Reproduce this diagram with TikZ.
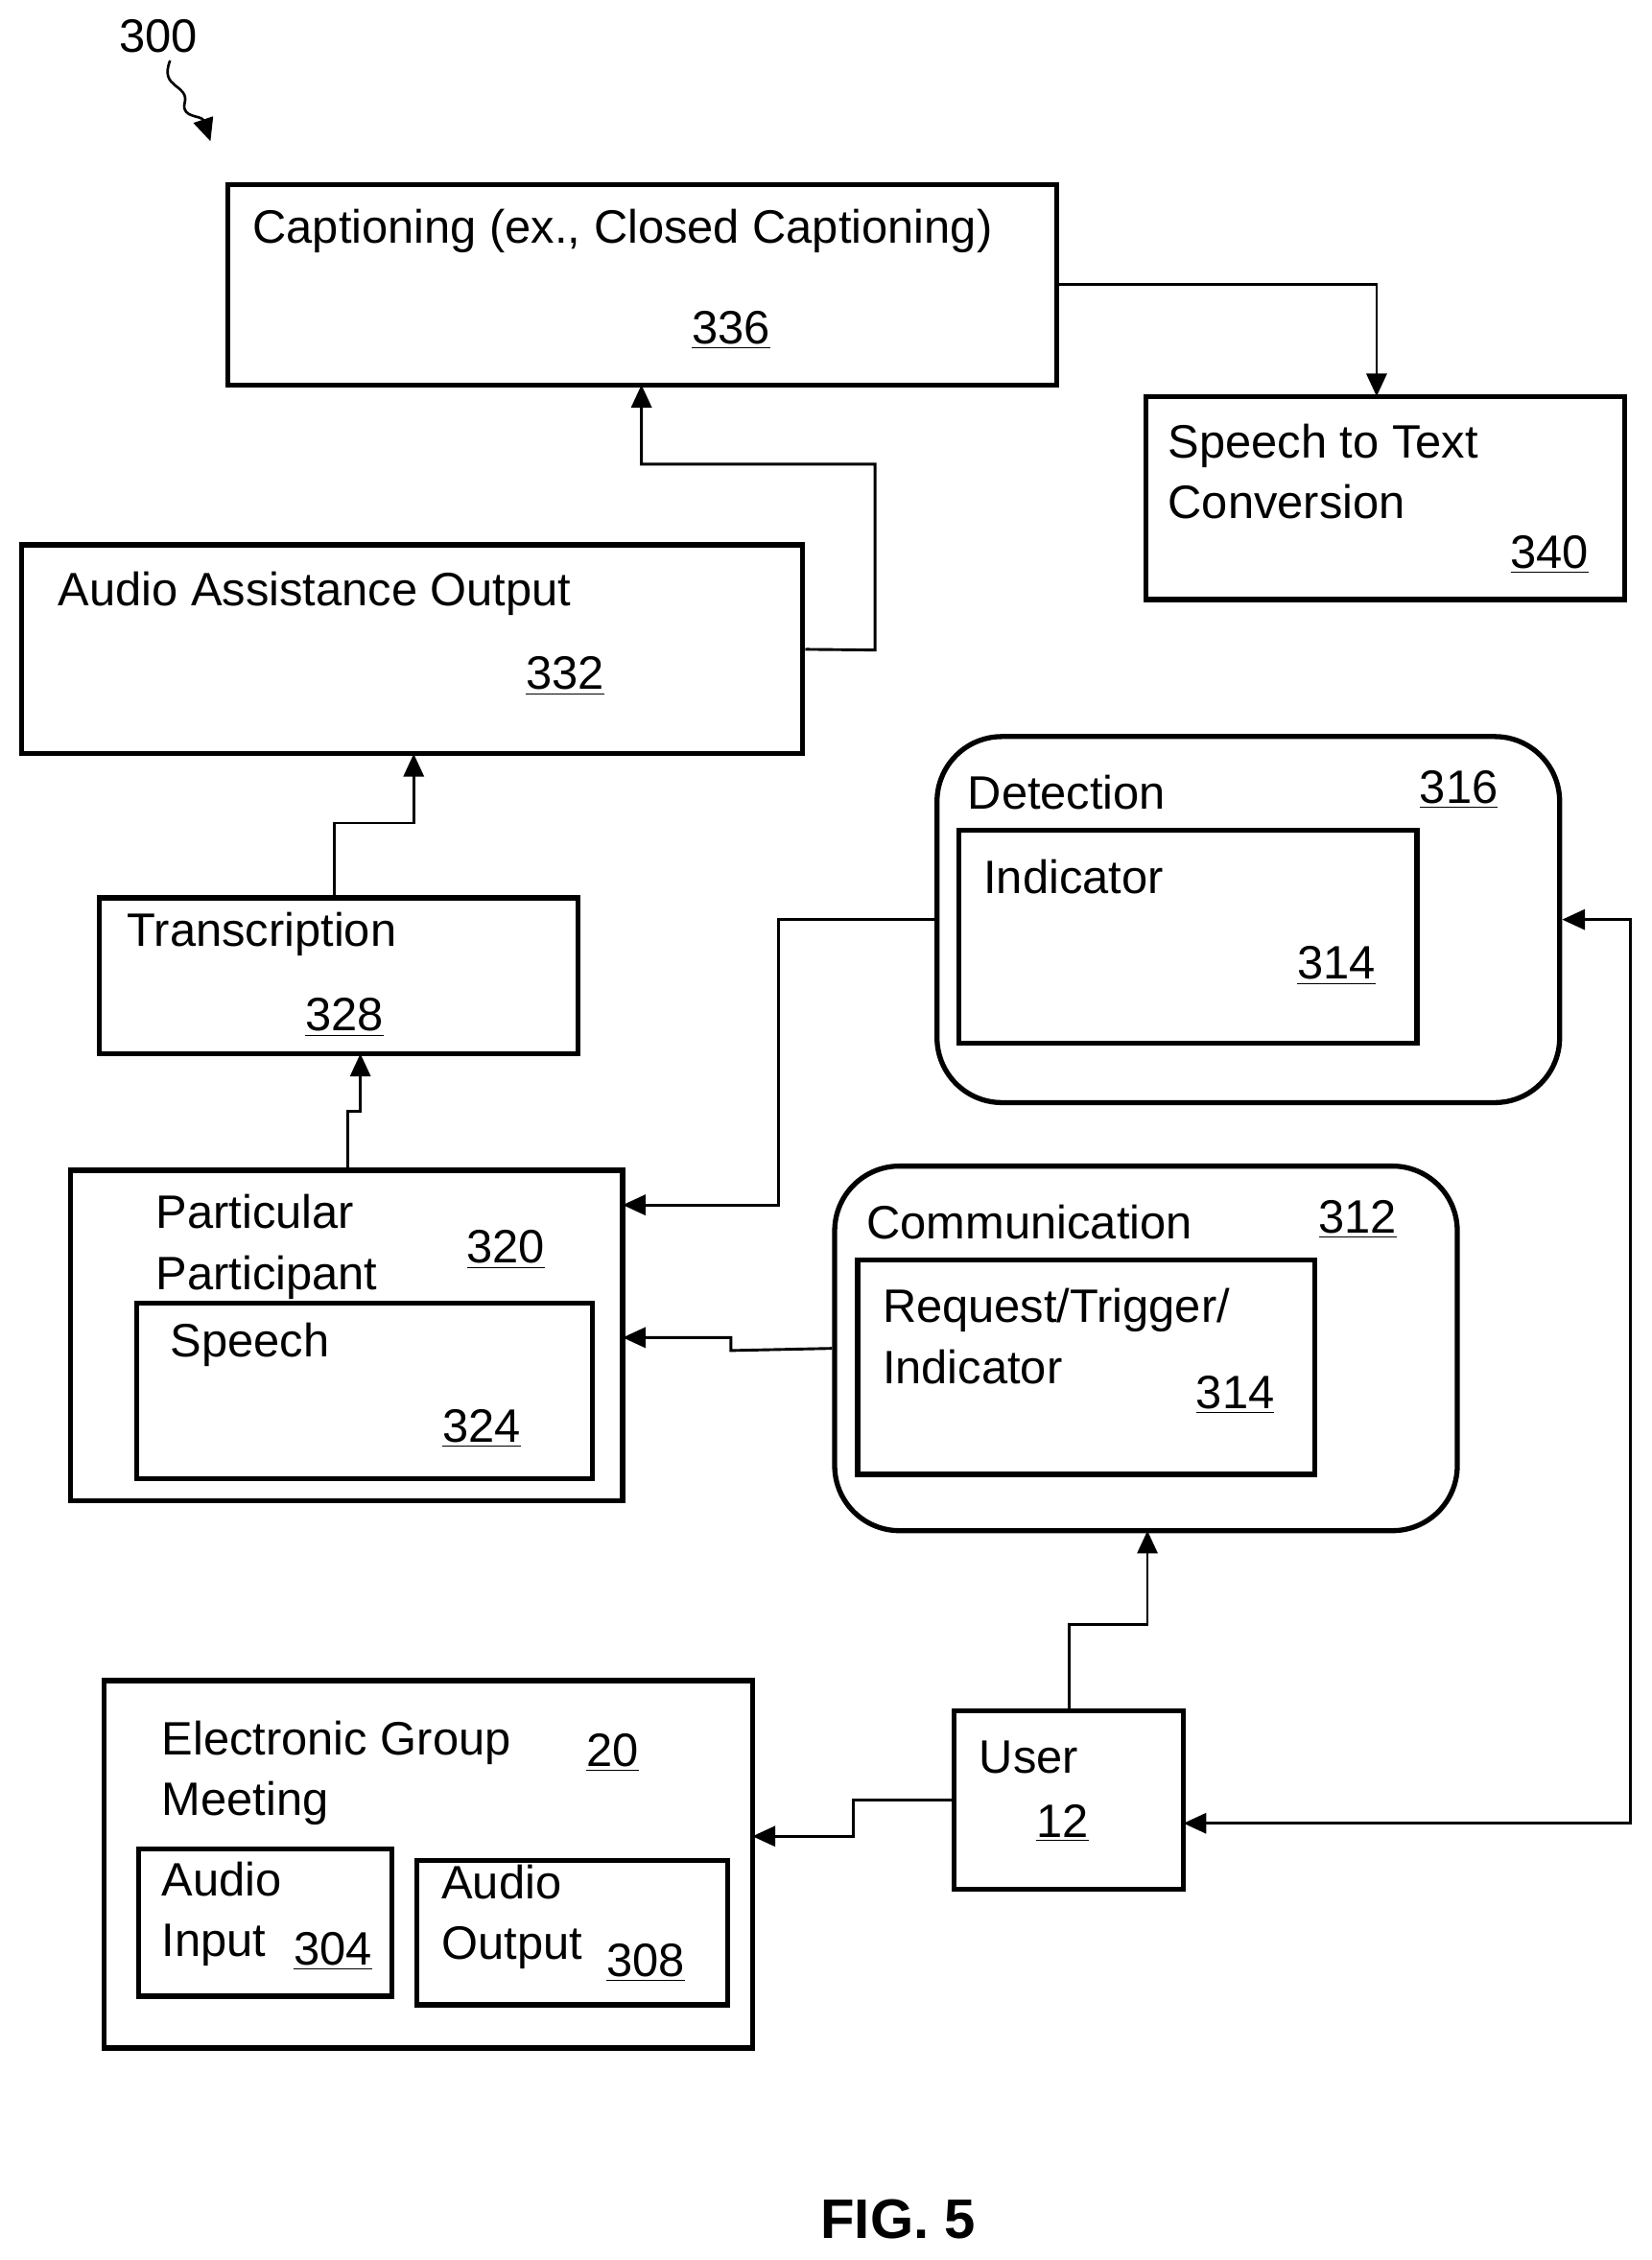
\documentclass[tikz,border=0pt]{standalone}
\usepackage{fontspec}
\setmainfont{Liberation Sans}
\usetikzlibrary{arrows.meta,decorations.pathmorphing}
\begin{document}
\begin{tikzpicture}[x=0.02cm,y=-0.02cm,
  box/.style={draw,line width=2pt,inner sep=0pt},
  rbox/.style={box,rounded corners=0.9cm},
  lbl/.style={anchor=west,inner sep=0pt,font=\fontsize{18.5}{24}\selectfont,align=left},
  num/.style={inner sep=0pt,font=\fontsize{18.5}{22}\selectfont},
  conn/.style={line width=1.1pt,-{Triangle[length=9pt,width=8pt]}}]
\useasboundingbox (0,0) rectangle (1146,1568);
% boxes
\node[box,minimum width=11.5cm,minimum height=2.78cm] (n336) at (445.5,197.5) {};
\node[box,minimum width=6.64cm,minimum height=2.82cm] (n340) at (961,345.5) {};
\node[box,minimum width=10.84cm,minimum height=2.9cm] (n332) at (286,450.5) {};
\node[box,minimum width=6.64cm,minimum height=2.16cm] (n328) at (235,677) {};
\node[box,minimum width=7.66cm,minimum height=4.58cm] (n320) at (240.5,926.5) {};
\node[box,minimum width=6.32cm,minimum height=2.44cm] (n324) at (253,965) {};
\node[rbox,minimum width=8.64cm,minimum height=5.08cm] (n316) at (866,638) {};
\node[box,minimum width=6.36cm,minimum height=2.96cm] (n314a) at (824,650) {};
\node[rbox,minimum width=8.64cm,minimum height=5.06cm] (n312) at (795,935.5) {};
\node[box,minimum width=6.34cm,minimum height=2.98cm] (n314b) at (753.5,948.5) {};
\node[box,minimum width=9cm,minimum height=5.1cm] (n20) at (297,1293.5) {};
\node[box,minimum width=3.52cm,minimum height=2.04cm] (n304) at (184,1334) {};
\node[box,minimum width=4.32cm,minimum height=2cm] (n308) at (397,1341) {};
\node[box,minimum width=3.18cm,minimum height=2.48cm] (n12) at (741.5,1249) {};
% texts
\node[lbl] (t336) at (175,160) {Captioning (ex., Closed Captioning)};
\node[num] (u336) at (507,229) {\underline{336}};
\node[lbl] (t340) at (810,327) {Speech to Text\\Conversion};
\node[num] (u340) at (1075,385) {\underline{340}};
\node[lbl] (t332) at (40,412) {Audio Assistance Output};
\node[num] (u332) at (392,469) {\underline{332}};
\node[lbl] (t328) at (88,648) {Transcription};
\node[num] (u328) at (239,706) {\underline{328}};
\node[lbl] (t320) at (108,865) {Particular\\Participant};
\node[num] (u320) at (351,867) {\underline{320}};
\node[lbl] (t324) at (118,933) {Speech};
\node[num] (u324) at (334,991) {\underline{324}};
\node[lbl] (t316) at (671,550) {Detection};
\node[num] (u316) at (1012,548) {\underline{316}};
\node[lbl] (t314a) at (682,608) {Indicator};
\node[num] (u314a) at (927,670) {\underline{314}};
\node[lbl] (t312) at (601,848) {Communication};
\node[num] (u312) at (942,846) {\underline{312}};
\node[lbl] (t314b) at (612,927) {Request/Trigger/\\Indicator};
\node[num] (u314b) at (857,968) {\underline{314}};
\node[lbl] (t20) at (112,1230) {Electronic Group\\Meeting};
\node[num] (u20) at (425,1216) {\underline{20}};
\node[lbl] (t304) at (112,1328) {Audio\\Input};
\node[num] (u304) at (231,1354) {\underline{304}};
\node[lbl] (t308) at (306,1330) {Audio\\Output};
\node[num] (u308) at (448,1362) {\underline{308}};
\node[lbl] (t12) at (679,1219) {User};
\node[num] (u12) at (737,1265) {\underline{12}};
\node[num] (t300) at (110,25) {300};
\node[num,font=\fontsize{22}{26}\selectfont\bfseries] (fig) at (623,1540) {FIG. 5};
\coordinate (s0) at (118,42);
\coordinate (s1) at (146,98);
\draw[line width=1pt,-{Triangle[length=9pt,width=8pt]}] (s0) .. controls (110,62) and (132,58) .. (128,72) .. controls (126,82) and (140,80) .. (s1);
% connectors
\draw[conn] (n336.east) -| (955,275);
\draw[conn] (n332.east) -- (607,451) -- (607,322) -- (445,322) -- (445,267);
\draw[conn] (232,623) -- (232,571) -- (287,571) -- (287,523);
\draw[conn] (241,812) -- (241,771) -- (250,771) -- (250,731);
\draw[conn] (n316.west) -- (540,638) -- (540,836) -- (432,836);
\draw[conn] (n312.west) -- (507,937) -- (507,928) -- (432,928);
\draw[conn] (742,1187) -- (742,1127) -- (796,1127) -- (796,1062);
\draw[line width=1.1pt,{Triangle[length=9pt,width=8pt]}-{Triangle[length=9pt,width=8pt]}] (n316.east) -- (1131,638) -- (1131,1265) -- (821,1265);
\draw[conn] (662,1249) -- (592,1249) -- (592,1274) -- (522,1274);
\end{tikzpicture}
\end{document}
